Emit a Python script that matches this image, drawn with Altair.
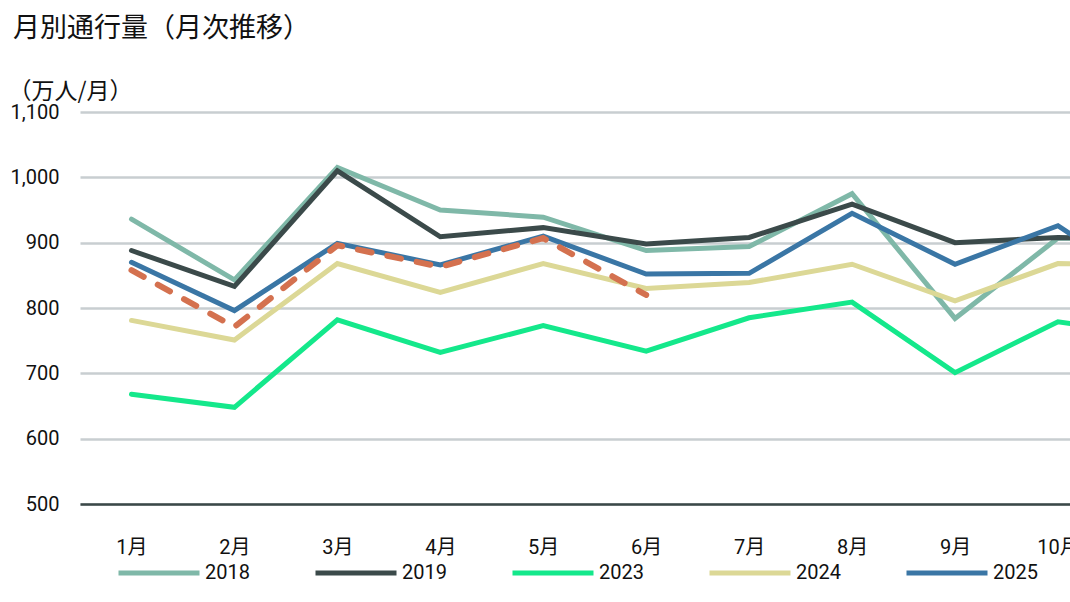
import altair as alt
import pandas as pd

months = list(range(1, 12))
tick_months = list(range(1, 11))
years = ["2018", "2019", "2023", "2024", "2025"]
v2018 = [936, 843, 1015, 950, 939, 888, 894, 975, 784, 907, 906]
v2019 = [888, 833, 1010, 909, 923, 898, 908, 959, 900, 908, 905]
v2023 = [668, 648, 782, 732, 773, 734, 785, 809, 701, 779, 757]
v2024 = [781, 751, 868, 824, 868, 830, 839, 867, 811, 868, 866]
v2025 = [870, 796, 899, 866, 910, 852, 853, 945, 867, 926, 820]
dashed_months = [1, 2, 3, 4, 5, 6]
dashed_vals = [858, 771, 896, 863, 907, 820]
colors = ["#7fb8a8", "#3b4a4a", "#14e88b", "#dcd896", "#3a76a5"]
y_ticks = [500, 600, 700, 800, 900, 1000, 1100]

series = [v2018, v2019, v2023, v2024, v2025]
rows = []
for yr, vals in zip(years, series):
    for m, v in zip(months, vals):
        rows.append({"month": m, "value": v, "year": yr})
df = pd.DataFrame(rows)
df_dash = pd.DataFrame({"month": dashed_months, "value": dashed_vals})

FONT = "Roboto, Noto Sans CJK JP, sans-serif"
CJK = "Noto Sans CJK JP, sans-serif"

x_enc = alt.X(
    "month:Q",
    scale=alt.Scale(domain=[0.5, 10.117], nice=False, zero=False),
    axis=alt.Axis(
        values=tick_months,
        labelExpr="datum.value + '月'",
        title=None,
        grid=False,
        ticks=False,
        domainColor="#3b4848",
        domainWidth=2.5,
        labelPadding=33,
        labelFontSize=20,
        labelFont=FONT,
        labelFontWeight="normal",
        labelColor="#111111",
        labelBaseline="top",
    ),
)
y_enc = alt.Y(
    "value:Q",
    scale=alt.Scale(domain=[500, 1100], nice=False, zero=False),
    axis=alt.Axis(
        values=y_ticks,
        labelExpr="format(datum.value, ',')",
        title="（万人/月）",
        titleAngle=0,
        titleAlign="left",
        titleBaseline="middle",
        titleX=-72,
        titleY=-21,
        titleFontSize=23,
        titleFontWeight="normal",
        titleFont=CJK,
        titleColor="#111111",
        labelFontSize=20,
        labelFont=FONT,
        labelFontWeight="normal",
        labelColor="#111111",
        labelPadding=21,
        ticks=False,
        domain=False,
        gridColor="#c8ced1",
        gridWidth=2.5,
    ),
)

lines = alt.Chart(df).mark_line(strokeWidth=5, strokeCap="round", clip=True).encode(
    x=x_enc,
    y=y_enc,
    color=alt.Color(
        "year:N",
        scale=alt.Scale(domain=years, range=colors),
        legend=alt.Legend(
            orient="none",
            legendX=36,
            legendY=418,
            direction="horizontal",
            columns=5,
            title=None,
            symbolType="stroke",
            symbolSize=6561,
            symbolStrokeWidth=5,
            labelFontSize=20,
            labelFont=FONT,
            labelFontWeight="normal",
            labelColor="#111111",
            labelOffset=3,
            columnPadding=55,
        ),
    ),
)

dashed = alt.Chart(df_dash).mark_line(
    strokeWidth=6, strokeCap="round", strokeDash=[14, 16], color="#d4714f", clip=True
).encode(x="month:Q", y="value:Q")

chart = (
    alt.layer(lines, dashed)
    .properties(
        width=990,
        height=392,
        autosize=alt.AutoSizeParams(type="none"),
        padding={"left": 80, "top": 112, "right": 0, "bottom": 98},
        title=alt.TitleParams(
            "月別通行量（月次推移）",
            anchor="start",
            frame="group",
            fontSize=27,
            fontWeight="normal",
            font=CJK,
            color="#111111",
            dx=-67,
            dy=-33,
        ),
        background="white",
    )
    .configure_view(stroke=None)
)

chart.save("out.html", embed_options={"renderer": "svg", "actions": False})
